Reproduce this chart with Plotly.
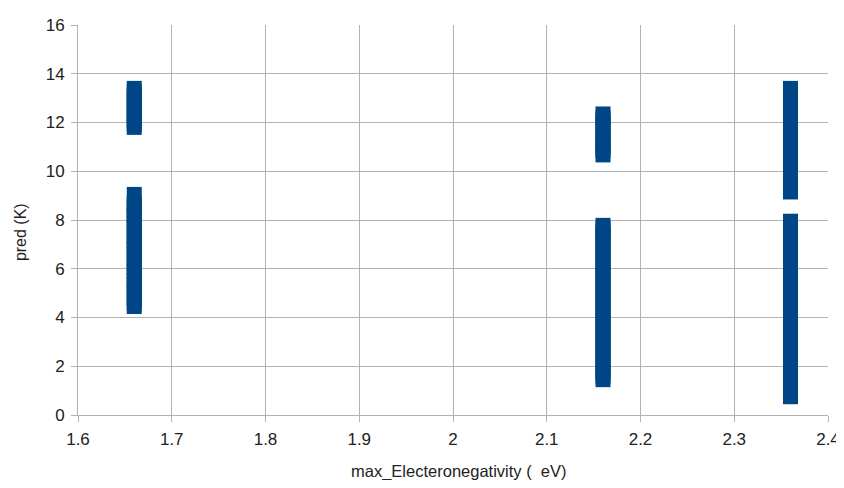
import plotly.graph_objects as go

# Data (max electronegativity vs predicted Tc)
x_group_a = 1.66
y_group_a = [4.45, 4.6, 4.8, 5.0, 5.15, 5.35, 5.5, 5.7, 5.9, 6.05, 6.25, 6.4, 6.6,
             6.8, 6.95, 7.15, 7.3, 7.5, 7.7, 7.85, 8.05, 8.2, 8.4, 8.55, 8.7, 9.05,
             11.8, 11.95, 12.1, 12.3, 12.45, 12.6, 12.8, 12.95, 13.1, 13.25, 13.4]

x_group_b = 2.16
y_group_b = [1.45, 1.6, 1.75, 1.95, 2.1, 2.3, 2.5, 2.65, 2.85, 3.0, 3.2, 3.4, 3.55,
             3.75, 3.9, 4.1, 4.3, 4.45, 4.65, 4.8, 5.0, 5.2, 5.35, 5.55, 5.7, 5.9,
             6.1, 6.25, 6.45, 6.6, 6.8, 7.0, 7.15, 7.35, 7.5, 7.65, 7.78,
             10.67, 10.85, 11.0, 11.15, 11.3, 11.5, 11.7, 11.85, 12.05, 12.2, 12.35]

x_group_c = 2.36
y_group_c = [0.75, 0.9, 1.1, 1.3, 1.45, 1.65, 1.8, 2.0, 2.2, 2.35, 2.55, 2.7, 2.9,
             3.1, 3.25, 3.45, 3.6, 3.8, 4.0, 4.15, 4.35, 4.5, 4.7, 4.9, 5.05, 5.25,
             5.4, 5.6, 5.8, 5.95, 6.15, 6.3, 6.5, 6.7, 6.85, 7.05, 7.2, 7.4, 7.6,
             7.75, 7.85, 7.95,
             9.15, 9.3, 9.45, 9.6, 9.8, 9.95, 10.15, 10.3, 10.5, 10.7, 10.85, 11.05,
             11.2, 11.4, 11.6, 11.75, 11.95, 12.1, 12.3, 12.5, 12.65, 12.85, 13.0,
             13.15, 13.3, 13.4]

x_ticks = [1.6, 1.7, 1.8, 1.9, 2.0, 2.1, 2.2, 2.3, 2.4]
x_tick_labels = ["1.6", "1.7", "1.8", "1.9", "2", "2.1", "2.2", "2.3", "2.4"]
y_ticks = [0, 2, 4, 6, 8, 10, 12, 14, 16]

x_title = "max_Electeronegativity (  eV)"
y_title = "pred (K)"

xs = ([x_group_a] * len(y_group_a) + [x_group_b] * len(y_group_b)
      + [x_group_c] * len(y_group_c))
ys = y_group_a + y_group_b + y_group_c

fig = go.Figure()
fig.add_trace(go.Scatter(
    x=xs, y=ys, mode="markers",
    marker=dict(symbol="square", size=15, color="#004586",
                line=dict(width=0)),
    showlegend=False, cliponaxis=False,
))

FAM = "Liberation Sans, Arial, sans-serif"
TXT = "#222222"
fig.update_layout(
    width=836, height=472,
    margin=dict(l=70, r=16, t=17, b=65),
    paper_bgcolor="white", plot_bgcolor="white",
    font=dict(family=FAM, size=17, color=TXT),
)
fig.update_xaxes(
    range=[1.6, 2.4], tickvals=x_ticks, ticktext=x_tick_labels,
    tickfont=dict(size=17),
    showgrid=True, gridcolor="#b3b3b3", gridwidth=1,
    showline=True, linecolor="#b3b3b3", linewidth=1,
    ticks="outside", ticklen=6, tickcolor="#b3b3b3",
    ticklabelstandoff=3, ticklabeloverflow="allow",
    zeroline=False, automargin=False,
)
fig.update_yaxes(
    range=[0, 16], tickvals=y_ticks,
    tickfont=dict(size=17),
    showgrid=True, gridcolor="#b3b3b3", gridwidth=1,
    showline=True, linecolor="#b3b3b3", linewidth=1,
    ticks="outside", ticklen=6, tickcolor="#b3b3b3",
    ticklabelstandoff=3, ticklabeloverflow="allow",
    zeroline=False, automargin=False,
)
fig.add_annotation(
    text=x_title, showarrow=False,
    xref="paper", yref="paper", x=0.508, y=-0.144,
    xanchor="center", yanchor="middle",
    font=dict(size=16.5, color=TXT),
)
fig.add_annotation(
    text=y_title, textangle=-90, showarrow=False,
    xref="paper", yref="paper", x=-0.0773, y=0.469,
    xanchor="center", yanchor="middle",
    font=dict(size=16, color=TXT),
)

fig.write_html("out.html")
